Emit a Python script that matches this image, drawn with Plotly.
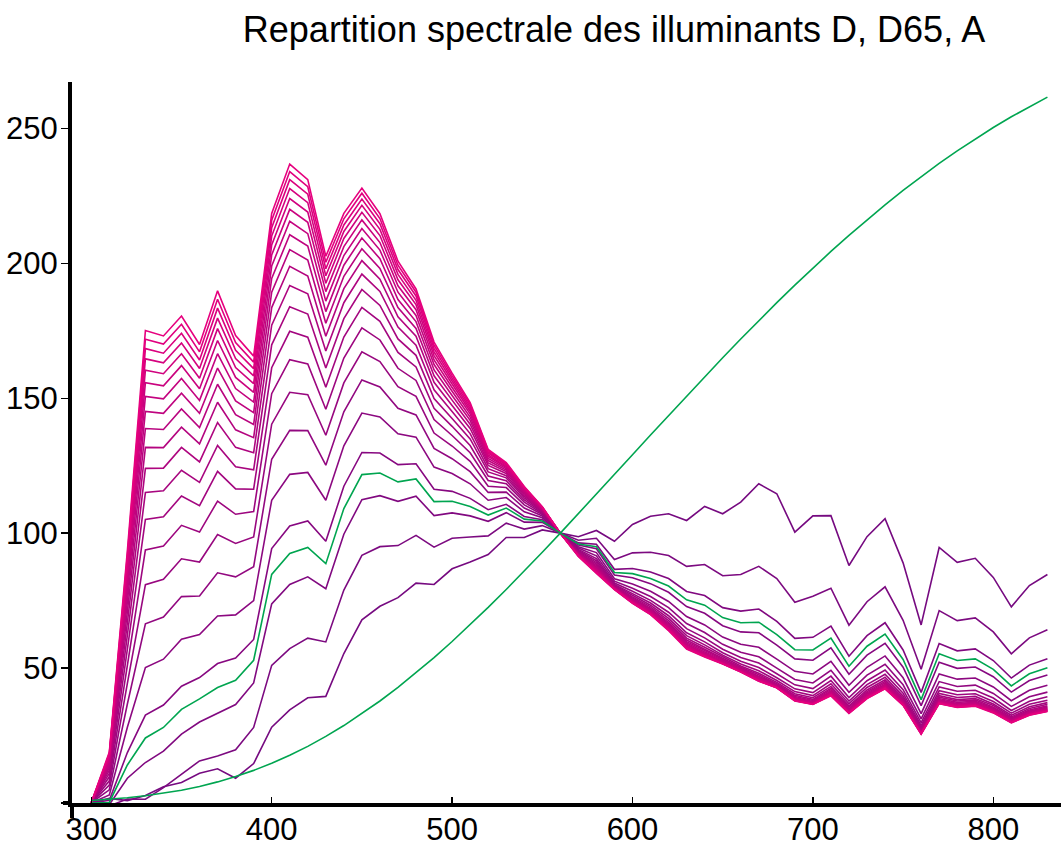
import plotly.graph_objects as go

# ---------------- data (read / estimated from the reference) ----------------
wavelength = list(range(300, 840, 10))

cct = [4000, 5000, 6000, 7000, 8000, 9000, 10000, 11000, 12000, 13000, 14000,
       15000, 16000, 17000, 18000, 19000, 20000, 21000, 22000, 23000, 24000]

d_4000 = [0.0, 1.7, 0.9, 2.8, 6.0, 7.6, 11.0, 12.7, 9.2, 14.6, 28.1, 34.5, 39.0, 39.5, 55.4, 67.9, 72.9, 76.1, 81.5, 81.0, 86.8, 89.3, 92.1, 98.4, 98.4, 101.2, 100.0,
          98.7, 101.0, 97.0, 103.2, 106.3, 107.2, 104.7, 109.9, 107.2, 111.5, 118.3, 114.6, 100.4, 106.4, 106.5, 88.0, 98.7, 105.4, 89.0, 66.0, 94.7, 89.2, 90.7, 83.6, 72.7, 80.6, 84.7]
d_5000 = [0.0, -1.1, 1.5, 1.4, 5.7, 10.5, 15.6, 17.4, 19.7, 28.0, 51.0, 57.2, 61.1, 59.7, 78.9, 91.8, 95.0, 95.4, 99.2, 94.8, 98.1, 98.6, 99.0, 103.7, 101.5, 102.8, 100.0,
          97.4, 98.1, 90.2, 92.7, 92.9, 91.7, 87.7, 88.4, 84.2, 84.7, 87.7, 83.2, 74.4, 76.6, 79.6, 65.9, 74.6, 80.1, 67.7, 49.6, 71.3, 67.6, 68.6, 63.4, 55.3, 61.2, 64.2]
d_6000 = [0.0, -0.6, 9.2, 15.0, 19.2, 25.5, 30.0, 33.3, 36.5, 44.5, 73.8, 81.0, 83.8, 79.4, 99.6, 112.4, 113.9, 111.8, 113.7, 106.5, 107.5, 106.4, 104.4, 107.6, 104.1, 104.0, 100.0,
          96.4, 95.9, 86.6, 86.9, 85.6, 83.2, 78.4, 76.9, 72.4, 71.1, 71.9, 67.3, 61.0, 61.4, 65.6, 54.4, 62.0, 66.8, 56.7, 41.0, 59.1, 56.4, 57.1, 52.8, 46.3, 51.1, 53.5]
d_7000 = [0.0, 1.0, 18.7, 32.6, 36.3, 43.3, 46.5, 51.7, 53.7, 60.6, 94.3, 102.7, 104.5, 97.0, 117.4, 129.9, 129.7, 125.4, 125.7, 116.3, 115.5, 112.9, 108.7, 110.7, 106.2, 105.0, 100.0,
          95.6, 94.2, 84.5, 83.5, 81.3, 78.1, 72.8, 70.3, 65.7, 63.4, 63.1, 58.5, 53.4, 52.9, 57.5, 47.7, 54.8, 59.2, 50.3, 36.1, 52.2, 49.9, 50.4, 46.8, 41.1, 45.4, 47.4]
d_8000 = [0.0, 3.0, 28.1, 50.2, 53.3, 60.7, 62.4, 69.3, 69.7, 75.0, 112.2, 121.8, 122.5, 112.2, 132.4, 144.5, 143.1, 136.8, 135.6, 124.5, 122.1, 118.3, 112.2, 113.2, 107.9, 105.7, 100.0,
          95.0, 92.8, 83.1, 81.2, 78.5, 74.7, 69.1, 66.0, 61.5, 58.8, 57.7, 53.3, 48.8, 47.8, 52.5, 43.6, 50.3, 54.5, 46.4, 33.1, 47.8, 45.9, 46.3, 43.0, 37.9, 41.8, 43.6]
d_9000 = [0.1, 4.9, 36.7, 66.4, 68.9, 76.5, 76.7, 85.3, 83.8, 87.6, 127.4, 138.1, 138.0, 125.2, 145.0, 156.8, 154.2, 146.3, 143.8, 131.4, 127.6, 122.8, 115.1, 115.2, 109.3, 106.4, 100.0,
          94.5, 91.6, 82.2, 79.6, 76.5, 72.4, 66.5, 63.2, 58.8, 55.9, 54.2, 50.0, 45.8, 44.5, 49.2, 41.0, 47.4, 51.4, 43.8, 31.2, 45.0, 43.2, 43.7, 40.6, 35.8, 39.4, 41.1]
d_10000 = [0.1, 6.6, 44.3, 80.9, 82.9, 90.5, 89.3, 99.5, 96.2, 98.6, 140.4, 152.2, 151.3, 136.3, 155.7, 167.2, 163.6, 154.3, 150.7, 137.1, 132.3, 126.6, 117.4, 116.9, 110.5, 106.9, 100.0,
           94.0, 90.6, 81.5, 78.5, 75.1, 70.7, 64.6, 61.2, 57.0, 53.9, 51.9, 47.9, 43.8, 42.4, 47.0, 39.1, 45.3, 49.3, 42.0, 29.8, 43.0, 41.4, 41.8, 38.9, 34.3, 37.7, 39.4]
d_11000 = [0.1, 8.2, 51.0, 93.8, 95.2, 102.9, 100.4, 111.9, 107.0, 108.0, 151.7, 164.3, 162.7, 145.9, 164.9, 176.1, 171.6, 161.1, 156.6, 142.1, 136.2, 129.8, 119.5, 118.3, 111.5, 107.3, 100.0,
           93.6, 89.8, 81.0, 77.6, 74.1, 69.4, 63.1, 59.7, 55.7, 52.5, 50.2, 46.4, 42.3, 40.9, 45.4, 37.8, 43.9, 47.7, 40.7, 28.8, 41.6, 40.1, 40.5, 37.6, 33.3, 36.6, 38.1]
d_12000 = [0.1, 9.7, 57.0, 105.1, 106.1, 113.8, 110.2, 122.9, 116.4, 116.3, 161.3, 174.8, 172.6, 154.1, 172.7, 183.7, 178.5, 167.0, 161.6, 146.3, 139.6, 132.5, 121.2, 119.4, 112.3, 107.7, 100.0,
           93.3, 89.1, 80.7, 77.0, 73.3, 68.4, 62.0, 58.6, 54.8, 51.5, 49.0, 45.4, 41.3, 39.8, 44.2, 36.8, 42.8, 46.6, 39.7, 28.1, 40.6, 39.1, 39.5, 36.7, 32.5, 35.7, 37.2]
d_13000 = [0.1, 11.0, 62.2, 115.1, 115.7, 123.3, 118.8, 132.5, 124.6, 123.5, 169.8, 183.9, 181.2, 161.2, 179.5, 190.3, 184.4, 172.0, 165.9, 149.9, 142.5, 134.9, 122.7, 120.5, 113.1, 108.0, 100.0,
           93.0, 88.5, 80.4, 76.4, 72.7, 67.6, 61.1, 57.7, 54.1, 50.8, 48.1, 44.7, 40.5, 39.0, 43.2, 36.0, 41.9, 45.7, 39.0, 27.6, 39.8, 38.3, 38.7, 36.1, 31.9, 35.0, 36.6]
d_14000 = [0.1, 12.1, 66.8, 124.0, 124.1, 131.8, 126.4, 141.0, 131.8, 129.8, 177.1, 191.8, 188.7, 167.5, 185.4, 196.0, 189.6, 176.4, 169.7, 153.1, 145.1, 136.9, 123.9, 121.3, 113.7, 108.3, 100.0,
           92.8, 88.0, 80.1, 76.0, 72.1, 66.9, 60.4, 57.0, 53.5, 50.3, 47.5, 44.2, 39.9, 38.4, 42.5, 35.5, 41.3, 45.0, 38.4, 27.2, 39.2, 37.8, 38.2, 35.5, 31.5, 34.5, 36.0]
d_15000 = [0.1, 13.1, 70.9, 131.8, 131.7, 139.3, 133.1, 148.5, 138.3, 135.4, 183.6, 198.9, 195.3, 173.0, 190.6, 201.0, 194.1, 180.2, 173.0, 155.9, 147.3, 138.8, 125.1, 122.1, 114.3, 108.5, 100.0,
           92.6, 87.5, 80.0, 75.6, 71.7, 66.4, 59.8, 56.5, 53.1, 49.9, 47.0, 43.8, 39.5, 38.0, 42.0, 35.0, 40.8, 44.5, 38.0, 26.8, 38.7, 37.3, 37.7, 35.1, 31.1, 34.1, 35.6]
d_16000 = [0.1, 14.0, 74.6, 138.8, 138.4, 146.0, 139.1, 155.2, 143.9, 140.3, 189.3, 205.1, 201.2, 177.8, 195.2, 205.4, 198.1, 183.6, 175.9, 158.3, 149.3, 140.4, 126.0, 122.8, 114.8, 108.7, 100.0,
           92.4, 87.1, 79.8, 75.3, 71.4, 65.9, 59.3, 56.0, 52.8, 49.6, 46.6, 43.5, 39.1, 37.6, 41.5, 34.6, 40.4, 44.0, 37.6, 26.6, 38.3, 36.9, 37.3, 34.8, 30.8, 33.8, 35.3]
d_17000 = [0.1, 14.9, 77.9, 145.1, 144.4, 151.9, 144.4, 161.2, 149.0, 144.7, 194.4, 210.6, 206.4, 182.1, 199.3, 209.4, 201.7, 186.6, 178.4, 160.5, 151.0, 141.8, 126.9, 123.4, 115.2, 108.9, 100.0,
           92.2, 86.8, 79.7, 75.1, 71.1, 65.6, 58.8, 55.6, 52.5, 49.3, 46.2, 43.3, 38.8, 37.4, 41.1, 34.3, 40.0, 43.7, 37.3, 26.3, 38.0, 36.6, 37.0, 34.5, 30.6, 33.5, 35.0]
d_18000 = [0.1, 15.6, 80.8, 150.7, 149.8, 157.3, 149.2, 166.5, 153.6, 148.6, 199.0, 215.6, 211.0, 186.0, 202.9, 212.9, 204.9, 189.3, 180.7, 162.5, 152.6, 143.0, 127.7, 123.9, 115.6, 109.1, 100.0,
           92.1, 86.5, 79.6, 74.9, 70.8, 65.2, 58.5, 55.3, 52.3, 49.1, 46.0, 43.1, 38.6, 37.2, 40.8, 34.1, 39.7, 43.4, 37.1, 26.2, 37.7, 36.3, 36.8, 34.2, 30.4, 33.3, 34.8]
d_19000 = [0.1, 16.3, 83.4, 155.8, 154.6, 162.1, 153.5, 171.4, 157.7, 152.2, 203.1, 220.0, 215.2, 189.5, 206.2, 216.1, 207.7, 191.7, 182.8, 164.2, 154.0, 144.2, 128.4, 124.4, 116.0, 109.3, 100.0,
           91.9, 86.2, 79.5, 74.7, 70.6, 64.9, 58.1, 55.0, 52.1, 49.0, 45.8, 43.0, 38.4, 37.0, 40.6, 33.8, 39.5, 43.1, 36.9, 26.0, 37.5, 36.1, 36.5, 34.1, 30.2, 33.1, 34.6]
d_20000 = [0.1, 16.9, 85.8, 160.4, 159.1, 166.5, 157.4, 175.8, 161.4, 155.4, 206.8, 224.0, 219.0, 192.6, 209.2, 218.9, 210.3, 193.9, 184.7, 165.8, 155.3, 145.2, 129.0, 124.8, 116.3, 109.4, 100.0,
           91.8, 85.9, 79.4, 74.5, 70.4, 64.7, 57.8, 54.8, 51.9, 48.8, 45.6, 42.9, 38.2, 36.8, 40.3, 33.7, 39.3, 42.9, 36.7, 25.9, 37.3, 36.0, 36.4, 33.9, 30.1, 32.9, 34.4]
d_21000 = [0.1, 17.4, 88.0, 164.6, 163.1, 170.5, 161.0, 179.7, 164.7, 158.3, 210.1, 227.7, 222.5, 195.4, 211.8, 221.5, 212.6, 195.9, 186.3, 167.2, 156.4, 146.1, 129.6, 125.2, 116.6, 109.5, 100.0,
           91.7, 85.7, 79.3, 74.4, 70.2, 64.5, 57.6, 54.6, 51.8, 48.7, 45.4, 42.8, 38.1, 36.7, 40.2, 33.5, 39.1, 42.7, 36.5, 25.8, 37.1, 35.8, 36.2, 33.7, 30.0, 32.8, 34.3]
d_22000 = [0.1, 18.0, 90.0, 168.4, 166.7, 174.1, 164.2, 183.4, 167.8, 161.0, 213.2, 231.0, 225.6, 198.0, 214.2, 223.8, 214.7, 197.7, 187.9, 168.5, 157.4, 146.9, 130.1, 125.6, 116.8, 109.6, 100.0,
           91.6, 85.5, 79.3, 74.2, 70.0, 64.3, 57.4, 54.4, 51.7, 48.6, 45.3, 42.7, 38.0, 36.6, 40.0, 33.4, 38.9, 42.5, 36.4, 25.7, 37.0, 35.6, 36.1, 33.6, 29.9, 32.7, 34.1]
d_23000 = [0.1, 18.4, 91.8, 171.9, 170.1, 177.4, 167.2, 186.7, 170.6, 163.4, 216.0, 234.0, 228.4, 200.4, 216.5, 226.0, 216.6, 199.3, 189.3, 169.7, 158.4, 147.7, 130.6, 125.9, 117.1, 109.7, 100.0,
           91.5, 85.3, 79.2, 74.1, 69.9, 64.1, 57.2, 54.3, 51.6, 48.6, 45.2, 42.7, 37.9, 36.6, 39.9, 33.3, 38.8, 42.4, 36.3, 25.6, 36.9, 35.5, 36.0, 33.5, 29.8, 32.6, 34.0]
d_24000 = [0.1, 18.9, 93.5, 175.1, 173.1, 180.5, 169.9, 189.8, 173.2, 165.6, 218.5, 236.8, 231.0, 202.6, 218.5, 227.9, 218.4, 200.8, 190.5, 170.8, 159.3, 148.4, 131.0, 126.2, 117.3, 109.8, 100.0,
           91.4, 85.1, 79.1, 74.0, 69.8, 63.9, 57.0, 54.1, 51.5, 48.5, 45.1, 42.7, 37.8, 36.5, 39.7, 33.2, 38.7, 42.3, 36.2, 25.5, 36.8, 35.4, 35.9, 33.4, 29.7, 32.5, 33.9]

d65 = [0.0, 0.2, 14.1, 24.1, 28.0, 34.7, 38.6, 42.8, 45.5, 52.9, 84.7, 92.5, 94.7, 88.7, 109.1, 121.7, 122.3, 119.0, 120.1, 111.7, 111.8, 109.9, 106.7, 109.3, 105.2, 104.5, 100.0,
       96.0, 95.0, 85.4, 85.0, 83.2, 80.4, 75.3, 73.3, 68.7, 66.8, 67.0, 62.4, 56.8, 56.7, 61.1, 50.7, 58.1, 62.6, 53.2, 38.3, 55.3, 52.8, 53.4, 49.5, 43.4, 47.9, 50.1]

illuminant_a = [0.93, 1.36, 1.93, 2.66, 3.59, 4.74, 6.14, 7.82, 9.80, 12.09, 14.71, 17.68, 20.99, 24.67, 28.70, 33.09, 37.81, 42.87, 48.24, 53.91, 59.86, 66.06, 72.50, 79.13, 85.95, 92.91, 100.00,
                107.18, 114.44, 121.73, 129.04, 136.35, 143.62, 150.84, 157.98, 165.03, 171.96, 178.77, 185.43, 191.93, 198.26, 204.41, 210.36, 216.12, 221.67, 227.00, 232.12, 237.01, 241.68, 246.12, 250.33, 254.31, 258.07, 261.60]

d_series = [d_4000, d_5000, d_6000, d_7000, d_8000, d_9000, d_10000, d_11000, d_12000, d_13000, d_14000,
            d_15000, d_16000, d_17000, d_18000, d_19000, d_20000, d_21000, d_22000, d_23000, d_24000]

x_tick_values = [300, 400, 500, 600, 700, 800]
y_tick_values = [0, 50, 100, 150, 200, 250]
y_tick_labels = ["", "50", "100", "150", "200", "250"]
title_text = "Repartition spectrale des illuminants D, D65, A"

# ---------------- styling ----------------
PURPLE = (118, 10, 128)
PINK = (230, 0, 126)
GREEN = "#00a550"
FONT = "Liberation Sans, Arial, Helvetica, sans-serif"


def series_colour(i, n):
    f = i / (n - 1)
    r, g, b = (PURPLE[k] + (PINK[k] - PURPLE[k]) * f for k in range(3))
    return "rgb(%d,%d,%d)" % (round(r), round(g), round(b))


fig = go.Figure()
for i, (t, vals) in enumerate(zip(cct, d_series)):
    fig.add_trace(go.Scatter(x=wavelength, y=vals, mode="lines", name="D %d K" % t,
                             line=dict(color=series_colour(i, len(cct)), width=1.6),
                             hoverinfo="skip"))
fig.add_trace(go.Scatter(x=wavelength, y=d65, mode="lines", name="D65",
                         line=dict(color=GREEN, width=1.6), hoverinfo="skip"))
fig.add_trace(go.Scatter(x=wavelength, y=illuminant_a, mode="lines", name="A",
                         line=dict(color=GREEN, width=1.6), hoverinfo="skip"))

L, T, B = 72, 82, 43
plot_w = 1061 - L
plot_h = 846 - T - B
fig.update_layout(
    template="none",
    width=1061, height=846,
    margin=dict(l=L, r=0, t=T, b=B, pad=0, autoexpand=False),
    paper_bgcolor="white", plot_bgcolor="white", showlegend=False,
    title=dict(text=title_text, x=614 / 1061, xref="container", xanchor="center",
               y=1 - 29 / 846, yref="container", yanchor="middle",
               font=dict(size=36, family=FONT, color="black")),
    xaxis=dict(range=[289.31, 837.53], showgrid=False, zeroline=False, showline=True,
               automargin=False, linewidth=4, linecolor="black", ticks="inside",
               ticklen=6, tickwidth=1.5, tickcolor="black", tickvals=x_tick_values,
               ticklabelstandoff=-4,
               tickfont=dict(size=31, family=FONT, color="black")),
    yaxis=dict(range=[0, 267.2], showgrid=False, zeroline=False, showline=True,
               automargin=False, linewidth=4, linecolor="black", ticks="outside",
               ticklen=7, tickwidth=1.5, tickcolor="black", tickvals=y_tick_values,
               ticktext=y_tick_labels, ticklabelstandoff=-3,
               tickfont=dict(size=31, family=FONT, color="black")),
    shapes=[
        dict(type="line", xref="paper", yref="paper", x0=0, x1=0, y0=0, y1=-15 / plot_h,
             line=dict(color="black", width=4)),
        dict(type="line", xref="paper", yref="paper", x0=-9 / plot_w, x1=0, y0=0, y1=0,
             line=dict(color="black", width=4)),
    ],
)
fig.write_html("out.html", config={"displayModeBar": False, "staticPlot": True})

# remove the default page margin so the figure sits at the window's top-left corner
with open("out.html", encoding="utf-8") as fh:
    page = fh.read()
page = page.replace("<head>", "<head><style>html,body{margin:0;padding:0;overflow:hidden;}</style>", 1)
with open("out.html", "w", encoding="utf-8") as fh:
    fh.write(page)
